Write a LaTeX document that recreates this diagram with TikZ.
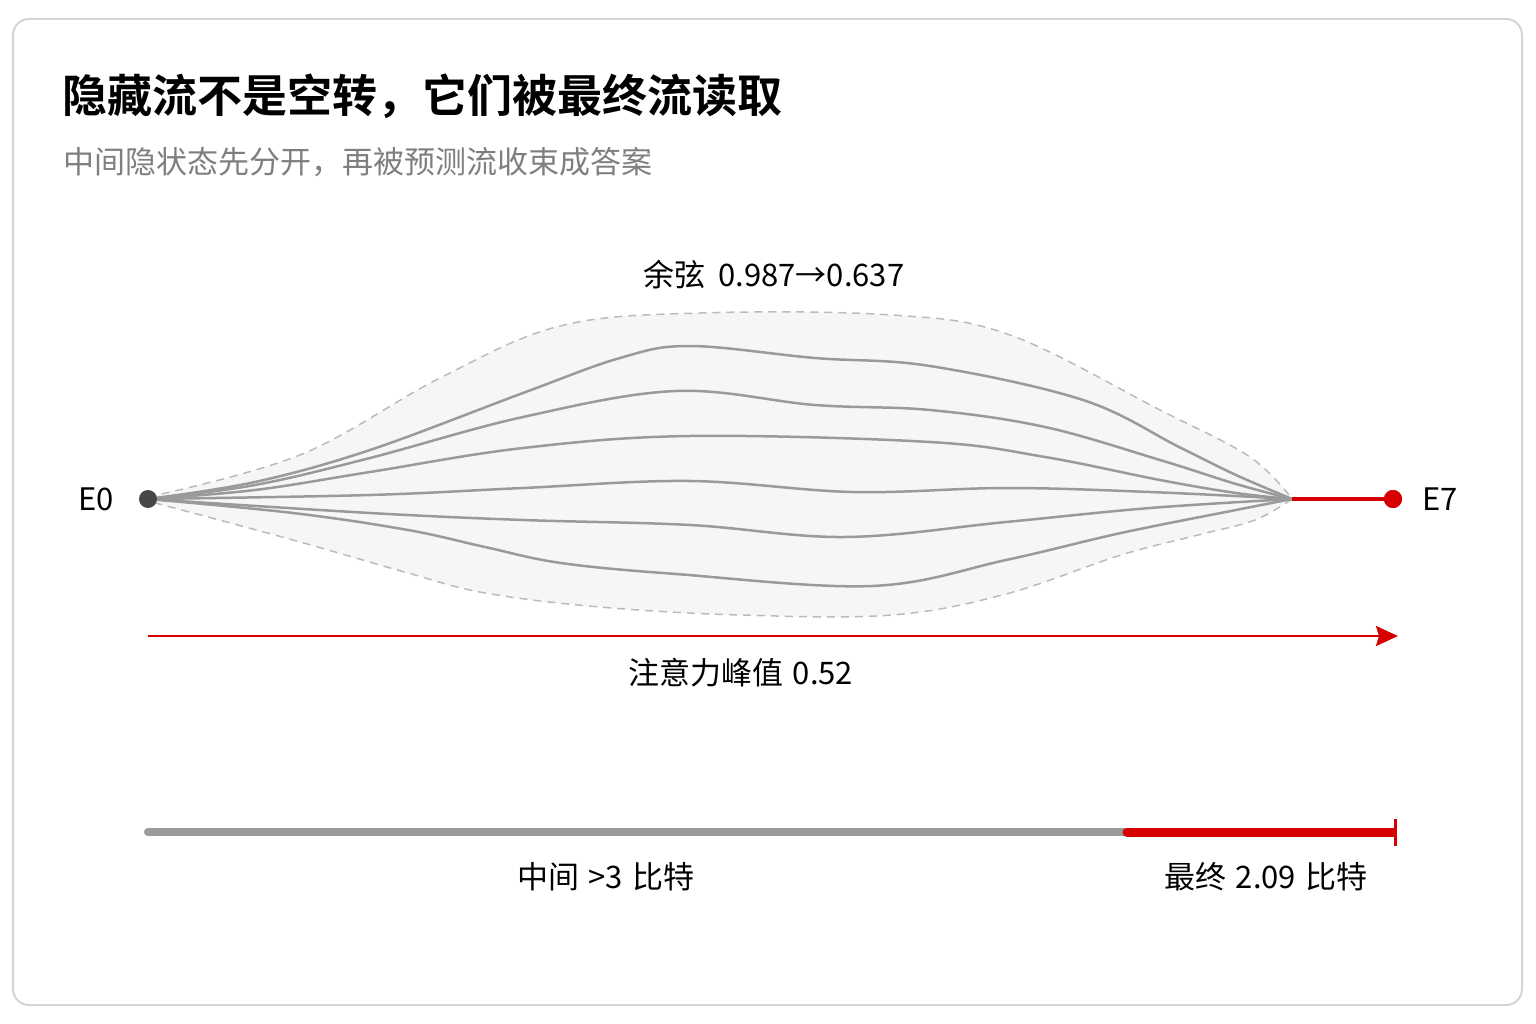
\documentclass[tikz,border=0pt]{standalone}
\usepackage{fontspec}
\setmainfont{Noto Sans CJK SC}[BoldFont={Noto Sans CJK SC Bold}]
\usetikzlibrary{arrows.meta}
\definecolor{redx}{HTML}{D60000}
\definecolor{flowgray}{HTML}{9A9A9A}
\definecolor{envgray}{HTML}{BBBBBB}
\definecolor{subgray}{HTML}{7F7F7F}
\definecolor{cardline}{HTML}{D4D4D4}
\definecolor{envfill}{HTML}{F6F6F6}
\begin{document}
\begin{tikzpicture}[x=1pt,y=-1pt,
  flow/.style={draw=flowgray,line width=2.5pt},
  envline/.style={draw=envgray,line width=1.5pt,dash pattern=on 8pt off 6pt},
  lbl/.style={anchor=base,inner sep=0pt,font=\fontsize{31}{36}\selectfont,text=black},
  dotnode/.style={circle,inner sep=0pt,minimum size=18pt}]
\useasboundingbox (0,0) rectangle (1536,1024);
\fill[white] (0,0) rectangle (1536,1024);
\draw[cardline,line width=2pt,rounded corners=16pt] (13,19) rectangle (1522,1005);

\node[anchor=base west,inner sep=0pt,font=\fontsize{45}{50}\selectfont\bfseries] (title) at (62,113) {隐藏流不是空转，它们被最终流读取};
\node[anchor=base west,inner sep=0pt,font=\fontsize{31}{36}\selectfont,text=subgray] (subtitle) at (63,174) {中间隐状态先分开，再被预测流收束成答案};

\coordinate (src) at (148,499);
\coordinate (snk) at (1292,499);

% envelope fill
\fill[envfill] plot[smooth,tension=0.6] coordinates {(148,497) (300,455) (440,378) (560,326) (700,313) (892,315) (1010,335) (1160,410) (1250,457) (1292,499)}
  -- plot[smooth,tension=0.6] coordinates {(1292,499) (1255,520) (1198,535) (1121,555) (1006,594) (892,615) (740,615) (600,607) (485,593) (408,573) (293,540) (148,501)} -- cycle;
\draw[envline] plot[smooth,tension=0.6] coordinates {(148,497) (300,455) (440,378) (560,326) (700,313) (892,315) (1010,335) (1160,410) (1250,457) (1292,499)};
\draw[envline] plot[smooth,tension=0.6] coordinates {(1292,499) (1255,520) (1198,535) (1121,555) (1006,594) (892,615) (740,615) (600,607) (485,593) (408,573) (293,540) (148,501)};

% flows
\draw[flow] plot[smooth,tension=0.6] coordinates {(src) (255,482) (370,450) (523,393) (620,358) (690,346) (815,358) (930,366) (1083,400) (1179,447) (1236,475) (snk)};
\draw[flow] plot[smooth,tension=0.6] coordinates {(src) (255,485) (370,458) (523,417) (676,391) (815,405) (930,410) (1045,427) (1160,460) (1236,484) (snk)};
\draw[flow] plot[smooth,tension=0.6] coordinates {(src) (255,490) (370,472) (523,448) (690,436) (930,442) (1045,457) (1160,480) (1236,493) (snk)};
\draw[flow] plot[smooth,tension=0.6] coordinates {(src) (370,495) (523,488) (690,481) (853,492) (1006,488) (1150,492) (snk)};
\draw[flow] plot[smooth,tension=0.6] coordinates {(src) (370,513) (523,520) (690,525) (845,537) (1006,522) (1150,508) (snk)};
\draw[flow] plot[smooth,tension=0.6] coordinates {(src) (293,513) (408,530) (485,547) (561,563) (676,574) (872,586) (1006,560) (1121,533) (1236,510) (snk)};

% endpoints
\node[dotnode,fill=black!72] (e0) at (src) {};
\node[dotnode,fill=redx] (e7) at (1393,499) {};
\draw[redx,line width=3.5pt] (snk) -- (e7.center);
\node[dotnode,fill=redx] at (e7) {};
\node[lbl] (e0lbl) at (96,510) {E0};
\node[lbl] (e7lbl) at (1440,510) {E7};

\node[lbl] (cos) at (774,287) {余弦\hspace{6pt} 0.987→0.637};

% attention arrow
\coordinate (arS) at (148,636);
\coordinate (arE) at (1398,636);
\draw[redx,line width=2pt,-{Stealth[length=22pt,width=20pt,inset=3pt]}] (arS) -- (arE);
\node[lbl] (att) at (741,684) {注意力峰值\hspace{2pt} 0.52};

% bits bar
\coordinate (bS) at (148,832);
\coordinate (bM) at (1127,832);
\coordinate (bE) at (1395,832);
\draw[flowgray,line width=8pt,line cap=round] (bS) -- (bM);
\draw[redx,line width=9pt,line cap=round] (bM) -- ([xshift=-4pt]bE);
\draw[redx,line width=9pt] ([xshift=-6pt]bE) -- (bE);
\draw[redx,line width=3pt] (1395,819) -- (1395,846);
\node[lbl] (mid) at (606,888) {中间\hspace{2pt} >3\hspace{2pt} 比特};
\node[lbl] (fin) at (1266,888) {最终\hspace{2pt} 2.09\hspace{2pt} 比特};
\end{tikzpicture}
\end{document}
